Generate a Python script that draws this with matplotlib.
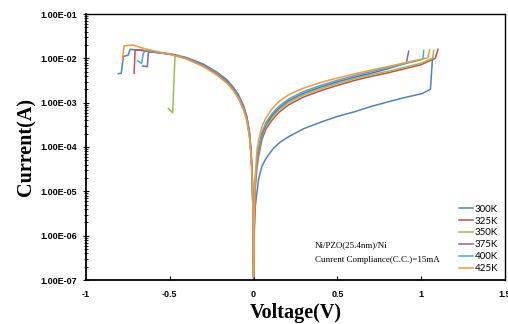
import numpy as np
import matplotlib.pyplot as plt
from matplotlib.ticker import FuncFormatter, LogLocator, MultipleLocator

# I-V sweeps, one list pair per temperature
v_300 = [-0.807, -0.79, -0.777, -0.748, -0.737, -0.70, -0.62, -0.5, -0.4, -0.3, -0.22, -0.16,
         -0.12, -0.09, -0.06, -0.04, -0.025, -0.015, -0.008, -0.003, 0.0,
         0.005, 0.01, 0.019, 0.03, 0.049, 0.07, 0.088, 0.12, 0.16, 0.208, 0.3, 0.407, 0.5,
         0.606, 0.7, 0.805, 0.9, 1.004, 1.055, 1.068]
i_300 = [4.5e-3, 4.6e-3, 1.1e-2, 1.18e-2, 1.6e-2, 1.55e-2, 1.42e-2, 1.27e-2, 1.04e-2, 7.4e-3,
         4.9e-3, 3.3e-3, 2.2e-3, 1.5e-3, 8.5e-4, 4.8e-4, 2.2e-4, 8e-5, 2.2e-5, 3e-6, 1.1e-7,
         1.5e-6, 4.5e-6, 9e-6, 1.9e-5, 3.6e-5, 5.2e-5, 6.6e-5, 9.5e-5, 1.3e-4, 1.7e-4, 2.6e-4,
         3.7e-4, 4.9e-4, 6.3e-4, 8.2e-4, 1.05e-3, 1.3e-3, 1.6e-3, 2.0e-3, 1.05e-2]

v_325 = [-0.713, -0.707, -0.668, -0.65, -0.62, -0.5, -0.4, -0.3, -0.22, -0.16, -0.12, -0.09,
         -0.06, -0.04, -0.025, -0.015, -0.008, -0.003, 0.0,
         0.005, 0.01, 0.02, 0.029, 0.05, 0.075, 0.109, 0.15, 0.208, 0.3, 0.407, 0.5, 0.606,
         0.7, 0.8, 0.9, 1.0, 1.084, 1.10]
i_325 = [4.6e-3, 1.54e-2, 1.54e-2, 1.48e-2, 1.40e-2, 1.25e-2, 1.02e-2, 7.2e-3, 4.7e-3, 3.15e-3,
         2.1e-3, 1.42e-3, 8.1e-4, 4.6e-4, 2.1e-4, 7.6e-5, 2.1e-5, 2.8e-6, 1.2e-7,
         3e-6, 1.2e-5, 3.5e-5, 6e-5, 1.5e-4, 2.6e-4, 4e-4, 6e-4, 8.9e-4, 1.35e-3, 1.9e-3,
         2.45e-3, 3.2e-3, 3.9e-3, 4.7e-3, 5.8e-3, 7.2e-3, 1.0e-2, 1.6e-2]

v_350 = [-0.509, -0.483, -0.469, -0.45, -0.4, -0.3, -0.22, -0.16, -0.12, -0.09, -0.06, -0.04,
         -0.025, -0.015, -0.008, -0.003, 0.0,
         0.005, 0.01, 0.02, 0.029, 0.05, 0.075, 0.109, 0.15, 0.208, 0.3, 0.407, 0.5, 0.606,
         0.7, 0.8, 0.9, 1.0, 1.068, 1.075]
i_350 = [7.4e-4, 5.9e-4, 1.1e-2, 1.17e-2, 1.0e-2, 7.0e-3, 4.6e-3, 3.05e-3, 2.05e-3, 1.38e-3,
         7.8e-4, 4.4e-4, 2.0e-4, 7.2e-5, 2.0e-5, 2.6e-6, 1.3e-7,
         3.5e-6, 1.5e-5, 4.2e-5, 7.2e-5, 1.75e-4, 3.0e-4, 4.6e-4, 6.8e-4, 1.0e-3, 1.5e-3,
         2.1e-3, 2.7e-3, 3.5e-3, 4.25e-3, 5.1e-3, 6.3e-3, 7.8e-3, 1.0e-2, 1.5e-2]

v_375 = [-0.662, -0.634, -0.628, -0.62, -0.5, -0.4, -0.3, -0.22, -0.16, -0.12, -0.09, -0.06,
         -0.04, -0.025, -0.015, -0.008, -0.003, 0.0,
         0.005, 0.01, 0.02, 0.029, 0.05, 0.075, 0.109, 0.15, 0.208, 0.3, 0.407, 0.5, 0.606,
         0.7, 0.8, 0.9, 0.912, 0.925]
i_375 = [6.7e-3, 6.5e-3, 1.3e-2, 1.45e-2, 1.24e-2, 1.0e-2, 6.9e-3, 4.5e-3, 3.0e-3, 2.0e-3,
         1.35e-3, 7.6e-4, 4.3e-4, 1.95e-4, 7e-5, 1.9e-5, 2.5e-6, 1.2e-7,
         4e-6, 1.7e-5, 4.8e-5, 8e-5, 1.95e-4, 3.3e-4, 5.1e-4, 7.5e-4, 1.1e-3, 1.65e-3, 2.3e-3,
         2.95e-3, 3.8e-3, 4.6e-3, 5.8e-3, 7.6e-3, 8.0e-3, 1.45e-2]

v_400 = [-0.692, -0.668, -0.658, -0.642, -0.62, -0.5, -0.4, -0.3, -0.22, -0.16, -0.12, -0.09,
         -0.06, -0.04, -0.025, -0.015, -0.008, -0.003, 0.0,
         0.005, 0.01, 0.02, 0.029, 0.05, 0.075, 0.109, 0.15, 0.208, 0.3, 0.407, 0.5, 0.606,
         0.7, 0.8, 0.9, 1.0, 1.01, 1.015]
i_400 = [8.8e-3, 7.7e-3, 1.3e-2, 1.5e-2, 1.45e-2, 1.23e-2, 9.9e-3, 6.8e-3, 4.4e-3, 2.9e-3,
         1.95e-3, 1.3e-3, 7.3e-4, 4.1e-4, 1.85e-4, 6.6e-5, 1.8e-5, 2.4e-6, 1.2e-7,
         4.5e-6, 1.9e-5, 5.4e-5, 9e-5, 2.15e-4, 3.6e-4, 5.6e-4, 8.2e-4, 1.2e-3, 1.8e-3, 2.5e-3,
         3.2e-3, 4.1e-3, 5.0e-3, 6.1e-3, 7.5e-3, 9.3e-3, 9.6e-3, 1.5e-2]

v_425 = [-0.783, -0.773, -0.718, -0.658, -0.62, -0.5, -0.4, -0.3, -0.22, -0.16, -0.12, -0.09,
         -0.06, -0.04, -0.025, -0.015, -0.008, -0.003, 0.0,
         0.005, 0.01, 0.02, 0.029, 0.05, 0.075, 0.109, 0.15, 0.208, 0.3, 0.407, 0.5, 0.606,
         0.7, 0.8, 0.9, 1.0, 1.04, 1.05]
i_425 = [9.1e-3, 1.92e-2, 1.99e-2, 1.68e-2, 1.55e-2, 1.24e-2, 9.6e-3, 6.5e-3, 4.2e-3, 2.75e-3,
         1.85e-3, 1.22e-3, 6.8e-4, 3.8e-4, 1.7e-4, 6e-5, 1.6e-5, 2.2e-6, 1.2e-7,
         5e-6, 2.2e-5, 8.5e-5, 1.4e-4, 2.9e-4, 4.6e-4, 7.2e-4, 1.05e-3, 1.5e-3, 2.15e-3, 2.9e-3,
         3.6e-3, 4.5e-3, 5.4e-3, 6.5e-3, 7.9e-3, 9.6e-3, 1.02e-2, 1.55e-2]

labels = ['300K', '325K', '350K', '375K', '400K', '425K']
colors = ['#4F81BD', '#C0504D', '#9BBB59', '#8064A2', '#4BACC6', '#F79646']
curves = [(v_300, i_300), (v_325, i_325), (v_350, i_350),
          (v_375, i_375), (v_400, i_400), (v_425, i_425)]

fig = plt.figure(figsize=(5.08, 3.24), dpi=100)
ax = fig.add_axes([86 / 508, 44 / 324, 419 / 508, 266 / 324])

for (v, i), lab, c in zip(curves, labels, colors):
    ax.plot(v, i, color=c, lw=1.1, label=lab)

ax.set_yscale('log')
ax.set_xlim(-1, 1.5)
ax.set_ylim(1e-7, 1e-1)

tick_font = {'family': 'Liberation Sans', 'weight': 'bold', 'size': 6.5}
ax.xaxis.set_major_locator(MultipleLocator(0.5))
ax.xaxis.set_major_formatter(FuncFormatter(lambda x, p: '%g' % x))
ax.yaxis.set_major_locator(LogLocator(base=10, numticks=10))
ax.yaxis.set_minor_locator(LogLocator(base=10, subs=np.arange(2, 10), numticks=10))
ax.yaxis.set_major_formatter(FuncFormatter(lambda y, p: '%.2E' % y))
ax.tick_params(axis='x', direction='in', length=3, width=0.8, pad=7)
ax.tick_params(axis='y', which='major', direction='inout', length=5, width=0.8, pad=4)
ax.tick_params(axis='y', which='minor', direction='inout', length=3, width=0.6)
for lbl in ax.get_xticklabels() + ax.get_yticklabels():
    lbl.set_fontproperties(tick_font)

for name, s in ax.spines.items():
    s.set_color('black')
    s.set_linewidth(1.3 if name in ('left', 'bottom') else 1.0)

serif = 'Liberation Serif'
ax.set_xlabel('Voltage(V)', family=serif, weight='bold', fontsize=14.5, labelpad=3)
ax.set_ylabel('Current(A)', family=serif, weight='bold', fontsize=14.5, labelpad=3)

ax.text(0.5465, 0.132, 'Ni/PZO(25.4nm)/Ni', transform=ax.transAxes,
        family=serif, fontsize=6.5, va='center')
ax.text(0.5465, 0.075, 'Cunrent Compliance(C.C.)=15mA', transform=ax.transAxes,
        family=serif, fontsize=6.5, va='center')

ax.legend(loc='lower right', bbox_to_anchor=(1.0, 0.0), frameon=False,
          prop={'family': 'Lato', 'size': 7}, handlelength=1.5, handletextpad=0.15,
          labelspacing=0.3, borderaxespad=0.3)

fig.savefig('out.png', dpi=100)
